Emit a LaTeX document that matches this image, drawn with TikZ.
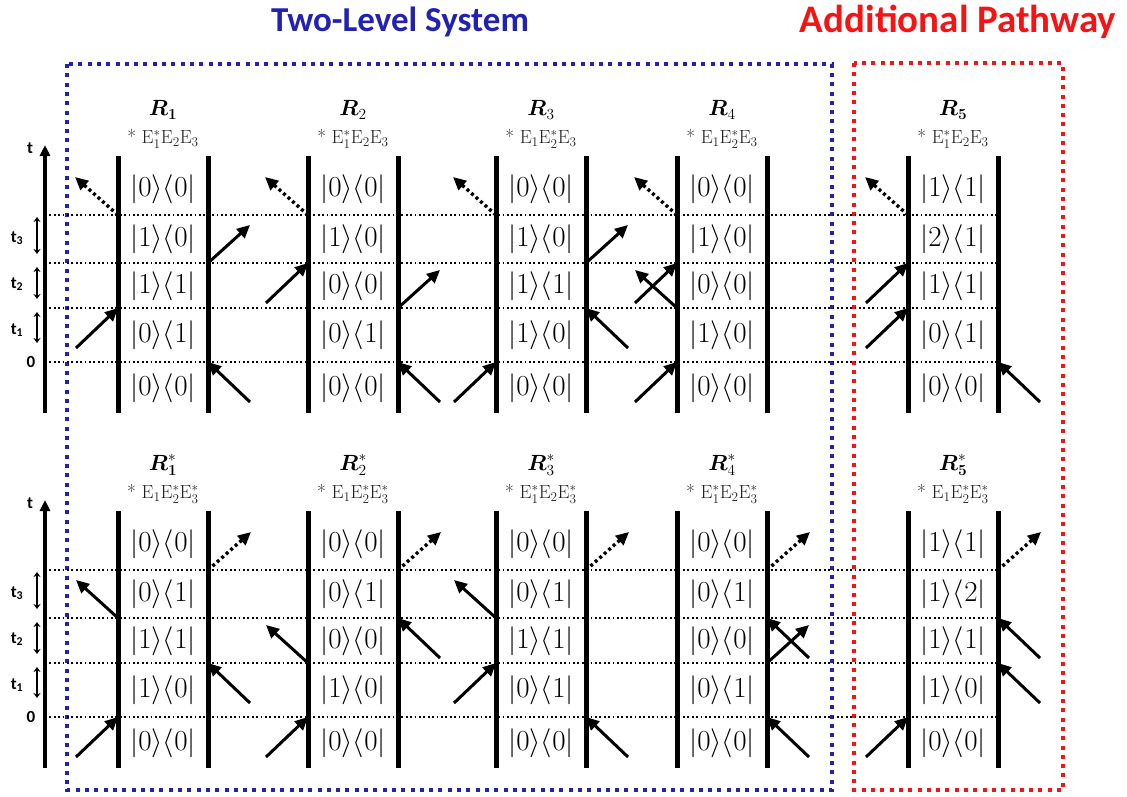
\RequirePackage{fix-cm}
\documentclass[tikz,border=0pt]{standalone}
\usepackage{amsmath,amsbsy}
\usepackage{fontspec}
\newfontfamily\headfont{Carlito}
\usetikzlibrary{arrows.meta,calc}

\definecolor{tlsblue}{RGB}{34,34,178}
\definecolor{pathred}{RGB}{245,20,20}
\definecolor{fieldgray}{RGB}{35,35,35}

\tikzset{
  rail/.style={line width=5pt},
  axisline/.style={line width=3.2pt,-{Triangle[length=11pt,width=10pt]}},
  tick/.style={line width=1.6pt,{Stealth[length=5pt,width=7pt]}-{Stealth[length=5pt,width=7pt]}},
  level/.style={line width=1.8pt,dash pattern=on 1.8pt off 2.6pt},
  pulse/.style={line width=3pt,-{Triangle[length=13pt,width=12pt]}},
  signal/.style={line width=3.4pt,dash pattern=on 3pt off 3pt,-{Triangle[length=13pt,width=12pt]}},
  frame/.style={line width=4pt,dash pattern=on 4pt off 5.3pt},
  ketlabel/.style={font=\fontsize{29}{32}\selectfont,inner sep=0pt},
  rlabel/.style={font=\fontsize{22}{24}\selectfont,inner sep=0pt},
  flabel/.style={font=\fontsize{19}{21}\selectfont,text=fieldgray,inner sep=0pt},
  axlabel/.style={font=\headfont\bfseries\fontsize{17}{19}\selectfont,inner sep=0pt},
  heading/.style={font=\headfont\bfseries\fontsize{35}{40}\selectfont,inner sep=0pt},
}

% density-matrix element |a><b|
\newcommand\ket[2]{$\lvert#1\rangle\langle#2\rvert$}

% time axis with the interaction levels of one panel
\newcommand\timeaxis[2]{% #1 panel name, #2 vertical shift
  \coordinate (#1-axb) at (45,413+#2);
  \coordinate (#1-axt) at (45,145+#2);
  \foreach \k/\y in {0/362,1/308,2/263,3/215}{\coordinate (#1-ax\k) at (45,\y+#2);}
  \draw[axisline] (#1-axb) -- (#1-axt);
  \node[axlabel] (#1-t) at (30,148+#2) {t};
  \node[axlabel] (#1-t3) at (17,238+#2) {t\textsubscript{3}};
  \node[axlabel] (#1-t2) at (17,284+#2) {t\textsubscript{2}};
  \node[axlabel] (#1-t1) at (17,330+#2) {t\textsubscript{1}};
  \node[axlabel] (#1-zero) at (31,362+#2) {0};
  \coordinate (#1-d3a) at (37,217+#2); \coordinate (#1-d3b) at (37,254+#2);
  \coordinate (#1-d2a) at (37,267+#2); \coordinate (#1-d2b) at (37,299+#2);
  \coordinate (#1-d1a) at (37,312+#2); \coordinate (#1-d1b) at (37,343+#2);
  \draw[tick] (#1-d3a) -- (#1-d3b);
  \draw[tick] (#1-d2a) -- (#1-d2b);
  \draw[tick] (#1-d1a) -- (#1-d1b);
}

% one double-sided diagram: rails, interaction points and headings
\newcommand\diagram[5]{% #1 name, #2 x of left rail, #3 vertical shift, #4 title, #5 fields
  \coordinate (#1-Lb) at (#2,413+#3);  \coordinate (#1-Lt) at (#2,156+#3);
  \coordinate (#1-Rb) at (#2+90,413+#3); \coordinate (#1-Rt) at (#2+90,156+#3);
  \foreach \k/\y in {0/362,1/308,2/263,3/215}{%
    \coordinate (#1-L\k) at (#2,\y+#3);
    \coordinate (#1-R\k) at (#2+90,\y+#3);}
  \foreach \k/\y in {4/189,3/239,2/286,1/335,0/388}{%
    \coordinate (#1-c\k) at (#2+45,\y+#3);}
  \node[rlabel] (#1-name) at (#2+45,110+#3) {#4};
  \node[flabel] (#1-field) at (#2+45,139+#3) {#5};
}
\newcommand\drawrails[1]{\draw[rail] (#1-Lb) -- (#1-Lt); \draw[rail] (#1-Rb) -- (#1-Rt);}
\newcommand\putstates[6]{% #1 name, #2..#6 states from top to bottom
  \node[ketlabel] (#1-s4) at (#1-c4) {#2};
  \node[ketlabel] (#1-s3) at (#1-c3) {#3};
  \node[ketlabel] (#1-s2) at (#1-c2) {#4};
  \node[ketlabel] (#1-s1) at (#1-c1) {#5};
  \node[ketlabel] (#1-s0) at (#1-c0) {#6};
}

% field interactions
\newcommand\inleft[2]{\coordinate (#1-iL#2) at ($(#1-L#2)+(-42,40)$);
  \draw[pulse] (#1-iL#2) -- (#1-L#2);}
\newcommand\inright[2]{\coordinate (#1-iR#2) at ($(#1-R#2)+(42,40)$);
  \draw[pulse] (#1-iR#2) -- (#1-R#2);}
\newcommand\outleft[2]{\coordinate (#1-oL#2) at ($(#1-L#2)+(-42,-38)$);
  \draw[pulse] (#1-L#2) -- (#1-oL#2);}
\newcommand\outright[2]{\coordinate (#1-oR#2) at ($(#1-R#2)+(42,-38)$);
  \draw[pulse] (#1-R#2) -- (#1-oR#2);}
\newcommand\sigleft[1]{\coordinate (#1-sig) at ($(#1-L3)+(-43,-38)$);
  \draw[signal] (#1-L3) -- (#1-sig);}
\newcommand\sigright[1]{\coordinate (#1-sig) at ($(#1-R3)+(43,-38)$);
  \draw[signal] (#1-R3) -- (#1-sig);}

\begin{document}
\begin{tikzpicture}[x=1pt,y=-1pt]
\useasboundingbox (0,0) rectangle (1127,796);

% headings and frames
\node[heading,text=tlsblue] (tls) at (400,22) {Two-Level System};
\node[heading,text=pathred,font=\headfont\bfseries\fontsize{39}{44}\selectfont] (extra) at (958,22) {Additional Pathway};
\draw[frame,tlsblue] (67,64) rectangle (832,790);
\draw[frame,pathred] (854,63) rectangle (1063,790);

% ---------- rephasing-type panel ----------
\timeaxis{T}{0}
\diagram{T1}{118}{0}{$\boldsymbol{R}_{\boldsymbol{1}}$}{* $\mathrm{E}_1^*\mathrm{E}_2\mathrm{E}_3$}
\diagram{T2}{308}{0}{$\boldsymbol{R}_2$}{* $\mathrm{E}_1^*\mathrm{E}_2\mathrm{E}_3$}
\diagram{T3}{496}{0}{$\boldsymbol{R}_3$}{* $\mathrm{E}_1\mathrm{E}_2^*\mathrm{E}_3$}
\diagram{T4}{677}{0}{$\boldsymbol{R}_4$}{* $\mathrm{E}_1\mathrm{E}_2^*\mathrm{E}_3$}
\diagram{T5}{908}{0}{$\boldsymbol{R}_{\boldsymbol{5}}$}{* $\mathrm{E}_1^*\mathrm{E}_2\mathrm{E}_3$}
\foreach \k in {0,1,2,3}{\draw[level] (T-ax\k) -- (T5-R\k);}
\foreach \d in {T1,T2,T3,T4,T5}{\drawrails{\d}}
\putstates{T1}{\ket00}{\ket10}{\ket11}{\ket01}{\ket00}
\putstates{T2}{\ket00}{\ket10}{\ket00}{\ket01}{\ket00}
\putstates{T3}{\ket00}{\ket10}{\ket11}{\ket10}{\ket00}
\putstates{T4}{\ket00}{\ket10}{\ket00}{\ket10}{\ket00}
\putstates{T5}{\ket11}{\ket21}{\ket11}{\ket01}{\ket00}
\inright{T1}{0} \inleft{T1}{1} \outright{T1}{2} \sigleft{T1}
\inright{T2}{0} \outright{T2}{1} \inleft{T2}{2} \sigleft{T2}
\inleft{T3}{0} \inright{T3}{1} \outright{T3}{2} \sigleft{T3}
\inleft{T4}{0} \outleft{T4}{1} \inleft{T4}{2} \sigleft{T4}
\inright{T5}{0} \inleft{T5}{1} \inleft{T5}{2} \sigleft{T5}

% ---------- conjugate panel ----------
\timeaxis{B}{355}
\diagram{B1}{118}{355}{$\boldsymbol{R}^*_{\boldsymbol{1}}$}{* $\mathrm{E}_1\mathrm{E}_2^*\mathrm{E}_3^*$}
\diagram{B2}{308}{355}{$\boldsymbol{R}^*_2$}{* $\mathrm{E}_1\mathrm{E}_2^*\mathrm{E}_3^*$}
\diagram{B3}{496}{355}{$\boldsymbol{R}^*_3$}{* $\mathrm{E}_1^*\mathrm{E}_2\mathrm{E}_3^*$}
\diagram{B4}{677}{355}{$\boldsymbol{R}^*_4$}{* $\mathrm{E}_1^*\mathrm{E}_2\mathrm{E}_3^*$}
\diagram{B5}{908}{355}{$\boldsymbol{R}^*_{\boldsymbol{5}}$}{* $\mathrm{E}_1\mathrm{E}_2^*\mathrm{E}_3^*$}
\foreach \k in {0,1,2,3}{\draw[level] (B-ax\k) -- (B5-R\k);}
\foreach \d in {B1,B2,B3,B4,B5}{\drawrails{\d}}
\putstates{B1}{\ket00}{\ket01}{\ket11}{\ket10}{\ket00}
\putstates{B2}{\ket00}{\ket01}{\ket00}{\ket10}{\ket00}
\putstates{B3}{\ket00}{\ket01}{\ket11}{\ket01}{\ket00}
\putstates{B4}{\ket00}{\ket01}{\ket00}{\ket01}{\ket00}
\putstates{B5}{\ket11}{\ket12}{\ket11}{\ket10}{\ket00}
\inleft{B1}{0} \inright{B1}{1} \outleft{B1}{2} \sigright{B1}
\inleft{B2}{0} \outleft{B2}{1} \inright{B2}{2} \sigright{B2}
\inright{B3}{0} \inleft{B3}{1} \outleft{B3}{2} \sigright{B3}
\inright{B4}{0} \outright{B4}{1} \inright{B4}{2} \sigright{B4}
\inleft{B5}{0} \inright{B5}{1} \inright{B5}{2} \sigright{B5}
\end{tikzpicture}
\end{document}
